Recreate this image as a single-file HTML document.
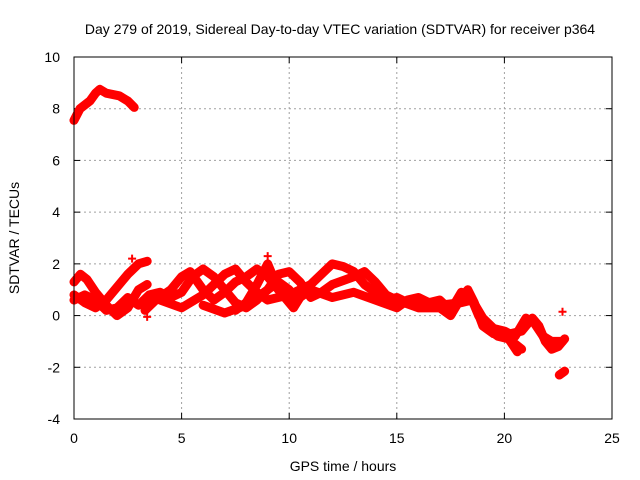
<!DOCTYPE html>
<html><head><meta charset="utf-8"><style>
body{margin:0;background:#fff;}
svg{display:block;font-family:"Liberation Sans",sans-serif;}
</style></head><body>
<svg id="chart" width="640" height="480">
<text x="340" y="34" font-size="14" text-anchor="middle">Day 279 of 2019, Sidereal Day-to-day VTEC variation (SDTVAR) for receiver p364</text>
<text x="343" y="471" font-size="14" text-anchor="middle">GPS time / hours</text>
<text x="0" y="0" font-size="14" text-anchor="middle" transform="translate(19,238) rotate(-90)">SDTVAR / TECUs</text>
<g id="grid"></g>
<g id="ticks"></g>
<g id="series"></g>
<rect x="74" y="57" width="538" height="362" fill="none" stroke="#000" stroke-width="1"/>
</svg>
<script>
const xTicks=[0,5,10,15,20,25];
const yTicks=[-4,-2,0,2,4,6,8,10];
const trackTop=[[0,7.55],[0.28,8.0],[0.74,8.3],[1.0,8.6],[1.2,8.75],[1.5,8.6],[2.1,8.5],[2.5,8.3],[2.8,8.05]];
const track1=[[0,0.8],[0.5,0.5],[1,0.3],[1.5,0.6],[2,1.1],[2.5,1.6],[3,2.0],[3.4,2.1]];
const track2=[[0,1.3],[0.3,1.6],[0.6,1.4],[1,0.9],[1.5,0.4],[2,0.0],[2.5,0.3],[3,1.0],[3.4,1.2]];
const track3=[[0,0.6],[0.5,0.8],[1,0.6],[1.5,0.2],[2,0.3],[2.5,0.7],[3,0.4],[3.5,0.8],[4,0.9],[4.5,0.7],[5,0.9],[5.5,1.5],[6,1.8],[6.5,1.5],[7,1.0],[7.5,0.5],[8,0.3],[8.5,0.6],[9,1.0],[9.5,1.3],[10,1.0]];
const track4=[[3.3,0.2],[3.8,0.6],[4.5,1.0],[5,1.5],[5.4,1.7],[6,1.0],[6.5,0.6],[7,0.9],[7.5,1.3],[8,1.5],[8.5,1.8],[9,1.5],[9.5,1.0],[10,0.7],[10.5,0.9]];
const track5=[[4,0.6],[5,0.3],[6,0.8],[7,1.6],[7.5,1.8],[8,1.3],[8.5,0.9],[9,0.6],[10,0.8],[11,1.2],[12,2.0],[12.5,1.9],[13,1.7],[13.5,1.2],[14,0.9]];
const track6=[[6,0.4],[7,0.1],[8,0.4],[9,1.0],[9.5,1.6],[10,1.7],[10.5,1.3],[11,0.7],[11.5,0.9],[12,1.2],[13,1.5],[13.5,1.7],[14,1.3],[14.5,0.8],[15,0.6],[16,0.3],[17,0.3],[17.5,0.0],[18,0.7],[18.3,1.0],[18.6,0.5],[19,-0.4],[19.5,-0.7],[20,-0.8],[20.5,-1.1],[20.8,-1.3]];
const track7=[[7.5,0.2],[8,0.5],[8.5,1.2],[9,2.0],[9.5,1.0],[10.2,0.3],[10.5,0.7],[11,1.0],[12,0.7],[13,0.9],[14,0.6],[15,0.3],[15.5,0.6],[16,0.7],[16.5,0.5],[17,0.6],[17.5,0.2],[18,0.9],[18.4,0.8],[18.8,0.0],[19.2,-0.5],[19.7,-0.8],[20.2,-0.9],[20.6,-1.4]];
const track8=[[20.3,-0.7],[20.8,-0.6],[21,-0.4],[21.3,-0.1],[21.6,-0.4],[21.9,-1.0],[22.2,-1.3],[22.5,-1.2],[22.8,-0.9]];
const track9=[[22.55,-2.3],[22.8,-2.15]];
const track10=[[14,1.0],[14.5,0.6],[15,0.7],[15.5,0.5],[16,0.4],[17,0.4],[18,0.5],[18.5,0.6],[19,-0.1],[19.5,-0.5],[20,-0.6],[20.5,-0.8],[21,-0.1],[21.4,-0.3],[21.8,-0.8],[22.2,-1.0],[22.7,-1.0]];
const singles=[[22.7,0.15],[3.4,-0.05],[2.7,2.2],[9.0,2.3],[20.6,-1.35]];
const tracks=[trackTop,track1,track2,track3,track4,track5,track6,track7,track8,track9,track10];

const X0=74,X1=612,Y0=419,Y1=57;
function sx(v){return X0+(v-0)/25*(X1-X0);}
function sy(v){return Y0-(v+4)/14*(Y0-Y1);}
const NS="http://www.w3.org/2000/svg";
function mk(tag,attrs,parent){const e=document.createElementNS(NS,tag);for(const k in attrs)e.setAttribute(k,attrs[k]);parent.appendChild(e);return e;}
const grid=document.getElementById('grid'),ticks=document.getElementById('ticks'),series=document.getElementById('series');
xTicks.forEach(t=>{
  const x=sx(t);
  if(t>0&&t<25){const g=mk('line',{x1:x,x2:x,y1:Y1,y2:Y0,stroke:'#a0a0a0','stroke-dasharray':'2,3'},grid);
  
  }
  mk('line',{x1:x,x2:x,y1:Y0,y2:Y0-6,stroke:'#000'},ticks);
  mk('line',{x1:x,x2:x,y1:Y1,y2:Y1+6,stroke:'#000'},ticks);
  const l=mk('text',{x:x,y:443,'font-size':14,'text-anchor':'middle'},ticks);l.textContent=t;
  
  
});
yTicks.forEach(t=>{
  const y=sy(t);
  if(t>-4&&t<10){const g=mk('line',{x1:X0,x2:X1,y1:y,y2:y,stroke:'#a0a0a0','stroke-dasharray':'2,3'},grid);
  
  }
  mk('line',{x1:X0,x2:X0+6,y1:y,y2:y,stroke:'#000'},ticks);
  mk('line',{x1:X1,x2:X1-6,y1:y,y2:y,stroke:'#000'},ticks);
  const l=mk('text',{x:60,y:y+5,'font-size':14,'text-anchor':'end'},ticks);l.textContent=t;
  
  
});
tracks.forEach((tr,i)=>{
  const p=mk('polyline',{points:tr.map(d=>sx(d[0])+','+sy(d[1])).join(' '),fill:'none',stroke:'#ff0000','stroke-width':9,'stroke-linejoin':'round','stroke-linecap':'round'},series);
  
  
});
singles.forEach(d=>{
  const x=sx(d[0]),y=sy(d[1]);
  const p=mk('path',{d:`M${x-4},${y}H${x+4}M${x},${y-4}V${y+4}`,stroke:'#ff0000','stroke-width':2},series);
  
  
});
</script>
</body></html>
